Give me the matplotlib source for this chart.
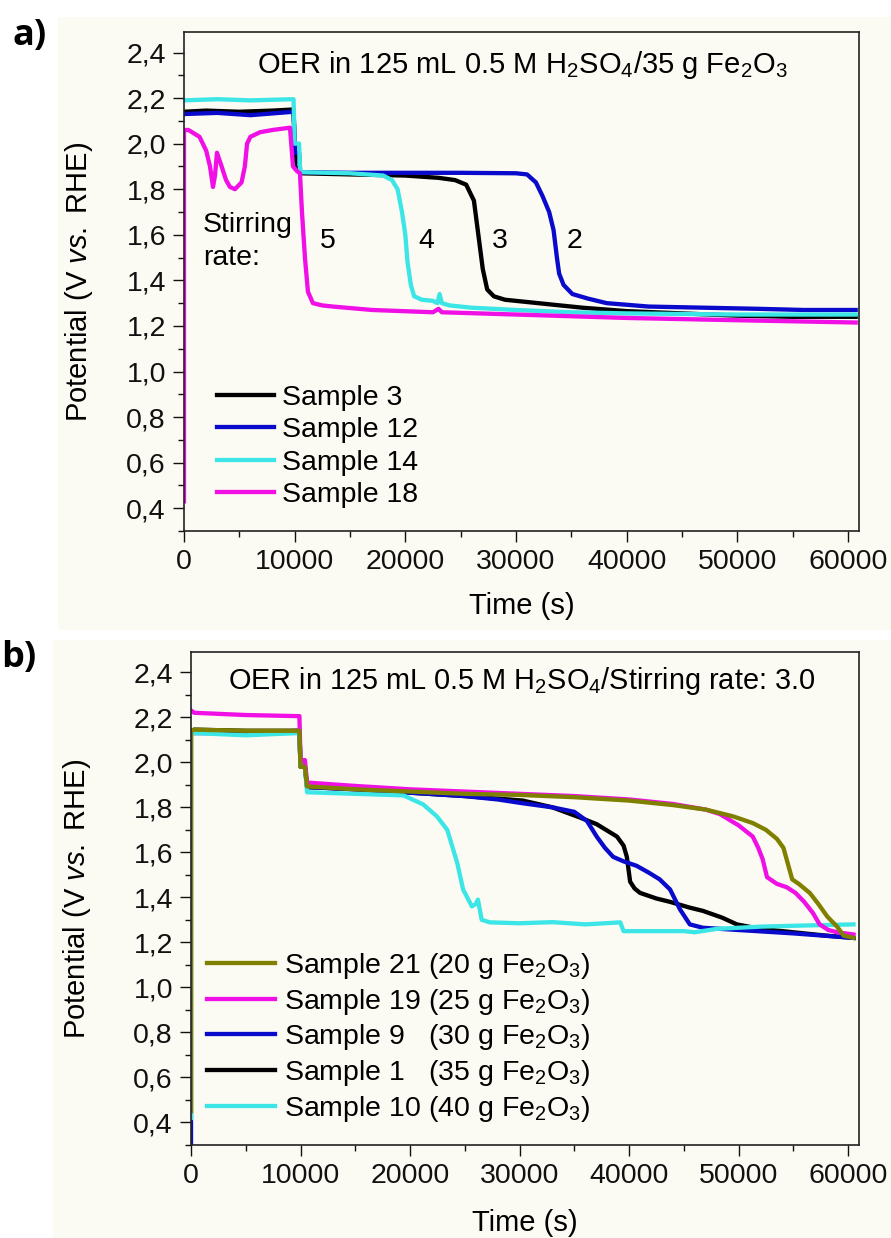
import matplotlib
matplotlib.use("Agg")
import matplotlib.pyplot as plt
from matplotlib.patches import Rectangle
from matplotlib.ticker import MultipleLocator, FuncFormatter

plt.rcParams['font.family'] = ['Liberation Sans', 'DejaVu Sans']
plt.rcParams['mathtext.fontset'] = 'custom'
plt.rcParams['mathtext.rm'] = 'Liberation Sans'
plt.rcParams['mathtext.it'] = 'Liberation Sans:italic'
plt.rcParams['mathtext.bf'] = 'Liberation Sans:bold'

# ---------------- data: panel a ----------------
a_labels = ["Sample 3", "Sample 12", "Sample 14", "Sample 18"]
a_colors = ["#000000", "#0a0acc", "#3ce6e6", "#f010e6"]

a_t_s3 = [0, 2000, 5000, 8000, 9900, 10050, 10500, 15000, 20000, 23000, 24500, 25500, 26200,
          26600, 27000, 27400, 28000, 29000, 32000, 36000, 40000, 45000, 50000, 55000, 60700]
a_v_s3 = [2.14, 2.145, 2.14, 2.145, 2.15, 1.90, 1.87, 1.865, 1.86, 1.85, 1.84, 1.82, 1.75,
          1.60, 1.45, 1.36, 1.33, 1.315, 1.30, 1.28, 1.265, 1.255, 1.245, 1.24, 1.24]

a_t_s12 = [0, 3000, 6000, 9900, 10050, 10400, 10500, 15000, 20000, 25000, 30000, 31000, 31800,
           32400, 33000, 33400, 33700, 33900, 34300, 35100, 36500, 38200, 42000, 47000, 52000,
           56000, 60700]
a_v_s12 = [2.13, 2.135, 2.125, 2.14, 1.96, 1.96, 1.875, 1.872, 1.872, 1.872, 1.87, 1.865, 1.83,
           1.77, 1.70, 1.62, 1.50, 1.43, 1.38, 1.34, 1.32, 1.30, 1.285, 1.28, 1.275, 1.27, 1.27]

a_t_s14 = [0, 3000, 6000, 9900, 10000, 10400, 10500, 15000, 18000, 18800, 19300, 19700, 20000,
           20200, 20500, 20800, 21500, 22500, 22900, 23100, 23300, 24000, 26000, 30000, 35000,
           40000, 50000, 60700]
a_v_s14 = [2.19, 2.195, 2.19, 2.195, 2.00, 2.00, 1.875, 1.87, 1.86, 1.84, 1.80, 1.70, 1.60,
           1.48, 1.38, 1.33, 1.315, 1.31, 1.30, 1.34, 1.30, 1.29, 1.28, 1.27, 1.26, 1.255, 1.25,
           1.25]

a_t_s18 = [0, 0, 400, 1400, 2000, 2350, 2620, 2800, 2980, 3400, 3800, 4150, 4600, 5200, 5500,
           5700, 6000, 6860, 8000, 9580, 9850, 10200, 10480, 10660, 10930, 11200, 11650, 12500,
           13460, 17000, 22500, 23000, 23300, 30000, 40000, 50000, 60700]
a_v_s18 = [0.43, 2.06, 2.06, 2.03, 1.97, 1.90, 1.81, 1.86, 1.96, 1.90, 1.84, 1.81, 1.80, 1.83,
           1.90, 2.00, 2.03, 2.05, 2.06, 2.07, 1.90, 1.88, 1.87, 1.70, 1.50, 1.35, 1.30, 1.29,
           1.285, 1.27, 1.26, 1.275, 1.26, 1.25, 1.235, 1.225, 1.215]

# ---------------- data: panel b ----------------
b_labels = ["Sample 21 (20 g Fe$_2$O$_3$)", "Sample 19 (25 g Fe$_2$O$_3$)",
            "Sample 9   (30 g Fe$_2$O$_3$)", "Sample 1   (35 g Fe$_2$O$_3$)",
            "Sample 10 (40 g Fe$_2$O$_3$)"]
b_colors = ["#808000", "#f010e6", "#0a0acc", "#000000", "#3ce6e6"]

b_t_s21 = [0, 0, 300, 5000, 9900, 10000, 10400, 10600, 15000, 20000, 25000, 30000, 35000, 40000,
           44000, 47000, 49500, 51300, 52500, 53500, 54100, 54500, 54900, 55500, 56500, 57300,
           58100, 59000, 59600, 60500]
b_v_s21 = [0.45, 2.14, 2.145, 2.14, 2.14, 1.98, 1.98, 1.893, 1.88, 1.87, 1.86, 1.855, 1.845,
           1.83, 1.81, 1.79, 1.76, 1.73, 1.70, 1.66, 1.62, 1.55, 1.48, 1.46, 1.42, 1.37, 1.315,
           1.27, 1.23, 1.22]

b_t_s19 = [0, 300, 5000, 9900, 10000, 10400, 10600, 15000, 20000, 25000, 30000, 35000, 40000,
           44000, 47000, 48300, 50000, 51300, 51800, 52200, 52600, 53500, 54400, 55200, 56000,
           56800, 57400, 58200, 59000, 60500]
b_v_s19 = [2.23, 2.22, 2.21, 2.205, 2.01, 2.01, 1.91, 1.895, 1.88, 1.87, 1.86, 1.85, 1.835,
           1.815, 1.79, 1.77, 1.72, 1.67, 1.62, 1.57, 1.49, 1.46, 1.445, 1.42, 1.38, 1.33, 1.28,
           1.255, 1.245, 1.235]

b_t_s9 = [0, 0, 5000, 9900, 10000, 10400, 10600, 15000, 20000, 25000, 28000, 30300, 33000,
          35000, 36150, 37050, 37800, 38550, 39500, 40700, 41800, 42800, 43750, 44650, 45550,
          46750, 50000, 55000, 60500]
b_v_s9 = [0.30, 2.13, 2.13, 2.14, 1.98, 1.98, 1.89, 1.88, 1.865, 1.85, 1.835, 1.818, 1.80,
          1.78, 1.74, 1.67, 1.62, 1.58, 1.56, 1.54, 1.51, 1.48, 1.435, 1.347, 1.28, 1.265, 1.255,
          1.24, 1.22]

b_t_s1 = [0, 300, 5000, 9900, 10000, 10400, 10600, 15000, 20000, 25000, 30300, 33000, 35500,
          37050, 38900, 39500, 39800, 40100, 40500, 41000, 42500, 43750, 45500, 46750, 48500,
          49850, 52000, 55000, 58000, 60500]
b_v_s1 = [2.14, 2.145, 2.14, 2.14, 1.98, 1.98, 1.89, 1.88, 1.865, 1.85, 1.83, 1.80, 1.755,
          1.725, 1.67, 1.63, 1.58, 1.47, 1.44, 1.42, 1.395, 1.38, 1.355, 1.34, 1.31, 1.28, 1.26,
          1.245, 1.23, 1.22]

b_t_s10 = [0, 0, 300, 5000, 9900, 10000, 10400, 10600, 15000, 19400, 21200, 22450, 23400,
           24300, 24850, 25650, 26000, 26200, 26550, 27300, 30000, 33000, 36000, 39200, 39500,
           42000, 45000, 46000, 48000, 52000, 56000, 60500]
b_v_s10 = [0.42, 2.13, 2.13, 2.12, 2.13, 1.98, 1.98, 1.867, 1.86, 1.853, 1.813, 1.76, 1.70,
           1.555, 1.435, 1.36, 1.37, 1.39, 1.30, 1.289, 1.285, 1.29, 1.28, 1.289, 1.25, 1.25,
           1.25, 1.245, 1.26, 1.27, 1.275, 1.28]

x_ticks = [0, 10000, 20000, 30000, 40000, 50000, 60000]
y_ticks = [0.4, 0.6, 0.8, 1.0, 1.2, 1.4, 1.6, 1.8, 2.0, 2.2, 2.4]

a_series = [(a_t_s3, a_v_s3), (a_t_s12, a_v_s12), (a_t_s14, a_v_s14), (a_t_s18, a_v_s18)]
b_series = [(b_t_s21, b_v_s21), (b_t_s19, b_v_s19), (b_t_s9, b_v_s9), (b_t_s1, b_v_s1),
            (b_t_s10, b_v_s10)]

# ---------------- figure ----------------
W, H = 891, 1238
fig = plt.figure(figsize=(W / 100, H / 100), dpi=100)
fig.patch.set_facecolor("white")
cream = "#fcfbf3"
fig.patches.append(Rectangle((58 / W, 1 - 630 / H), (W - 58) / W, (630 - 17) / H,
                             transform=fig.transFigure, facecolor=cream, edgecolor="none", zorder=-10))
fig.patches.append(Rectangle((53 / W, 0), (W - 53) / W, (1238 - 640) / H,
                             transform=fig.transFigure, facecolor=cream, edgecolor="none", zorder=-10))

FS = 20.5
LW = 3.1


def style_axes(ax):
    ax.set_facecolor("none")
    ax.set_xlim(0, 61000)
    ax.set_ylim(0.3, 2.49)
    ax.set_xticks(x_ticks)
    ax.set_yticks(y_ticks)
    ax.xaxis.set_minor_locator(MultipleLocator(5000))
    ax.yaxis.set_minor_locator(MultipleLocator(0.1))
    ax.yaxis.set_major_formatter(FuncFormatter(lambda v, p: f"{v:.1f}".replace(".", ",")))
    ax.xaxis.set_major_formatter(FuncFormatter(lambda v, p: f"{int(round(v))}"))
    ax.tick_params(which="both", direction="out", top=False, right=False, width=1.0,
                   labelsize=FS, colors="#111111")
    ax.tick_params(which="major", length=8)
    ax.tick_params(axis="x", which="major", pad=5)
    ax.tick_params(axis="y", which="major", pad=5)
    ax.tick_params(which="minor", length=4.5)
    for s in ax.spines.values():
        s.set_linewidth(1.2)
        s.set_color("#222222")
    ax.set_xlabel("Time (s)", fontsize=FS + 0.5)
    ax.set_ylabel("Potential (V $\\mathit{vs.}$ RHE)", fontsize=FS + 0.5)


# ---- panel a ----
axa = fig.add_axes([184 / W, 1 - 531 / H, (859 - 184) / W, (531 - 32) / H])
style_axes(axa)
for i in [0, 1, 2, 3]:
    t, v = a_series[i]
    axa.plot(t, v, color=a_colors[i], lw=LW, label=a_labels[i], solid_joinstyle="round")
axa.xaxis.set_label_coords(0.5, -(592 - 531) / 499)
axa.yaxis.set_label_coords((95 - 184) / 675, 0.5)
axa.text(6594, 2.308, "OER in 125 mL 0.5 M H$_2$SO$_4$/35 g Fe$_2$O$_3$", fontsize=FS + 0.5,
         ha="left", va="baseline")
axa.text(1716, 1.613, "Stirring", fontsize=FS, ha="left", va="baseline")
axa.text(1716, 1.468, "rate:", fontsize=FS, ha="left", va="baseline")
for lab, tx in zip(["5", "4", "3", "2"], [13000, 21860, 28550, 35320]):
    axa.text(tx, 1.543, lab, fontsize=FS, ha="center", va="baseline")
axa.legend(loc="upper left", bbox_to_anchor=((217 - 184) / 675, (531 - 385) / 499),
           frameon=False, fontsize=FS, handlelength=2.0, handletextpad=0.3,
           labelspacing=0.22, borderpad=0, borderaxespad=0)

# ---- panel b ----
axb = fig.add_axes([191 / W, 1 - 1145 / H, (859 - 191) / W, (1145 - 652) / H])
style_axes(axb)
for i in [3, 2, 4, 1, 0]:
    t, v = b_series[i]
    axb.plot(t, v, color=b_colors[i], lw=LW, label=b_labels[i], solid_joinstyle="round")
axb.xaxis.set_label_coords(0.5, -(1209 - 1145) / 493)
axb.yaxis.set_label_coords((93 - 191) / 668, 0.5)
axb.text(3380, 2.324, "OER in 125 mL 0.5 M H$_2$SO$_4$/Stirring rate: 3.0", fontsize=FS + 0.3,
         ha="left", va="baseline")
handles, labels = axb.get_legend_handles_labels()
lab_order = [b_labels.index(l) for l in labels]
hl = sorted(zip(lab_order, handles, labels))
axb.legend([h for _, h, _ in hl], [l for _, _, l in hl], loc="upper left",
           bbox_to_anchor=((207 - 191) / 668, (1145 - 951) / 493),
           frameon=False, fontsize=FS, handlelength=2.4, handletextpad=0.3,
           labelspacing=0.2, borderpad=0, borderaxespad=0)

# panel letters
fig.text(12 / W, 1 - 36 / H, "a)", fontsize=26, fontweight="bold", ha="left", va="center",
         family=["Open Sans", "DejaVu Sans"])
fig.text(1 / W, 1 - 658 / H, "b)", fontsize=26, fontweight="bold", ha="left", va="center",
         family=["Open Sans", "DejaVu Sans"])

fig.savefig("out.png", dpi=100)
